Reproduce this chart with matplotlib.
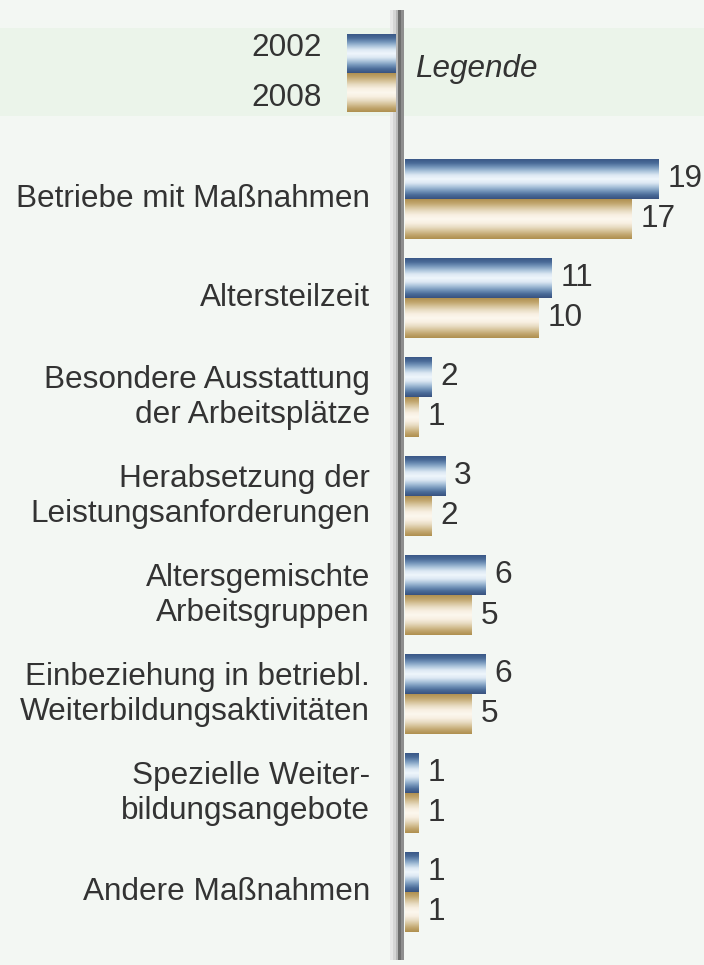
import numpy as np
import matplotlib
matplotlib.use("Agg")
import matplotlib.pyplot as plt
import matplotlib.transforms as mtransforms
from matplotlib.colors import LinearSegmentedColormap
from matplotlib.patches import Rectangle

categories = [
    "Betriebe mit Maßnahmen",
    "Altersteilzeit",
    "Besondere Ausstattung\nder Arbeitsplätze",
    "Herabsetzung der\nLeistungsanforderungen",
    "Altersgemischte\nArbeitsgruppen",
    "Einbeziehung in betriebl.\nWeiterbildungsaktivitäten",
    "Spezielle Weiter-\nbildungsangebote",
    "Andere Maßnahmen",
]
values_2002 = [19, 11, 2, 3, 6, 6, 1, 1]
values_2008 = [17, 10, 1, 2, 5, 5, 1, 1]
series_labels = ["2002", "2008"]
legend_title = "Legende"

W, H = 704, 965
DPI = 100
FONT = "Liberation Sans"
FS = 22.7
TXT = "#333333"
BG = "#F3F7F3"

blue_cmap = LinearSegmentedColormap.from_list(
    "blue", ["#3A5786", "#4A6B98", "#7495BA", "#A9C2DA", "#DCE8F3", "#EFF6FC",
             "#DCE8F3", "#A9C2DA", "#7495BA", "#4A6B98", "#38527F"])
beige_cmap = LinearSegmentedColormap.from_list(
    "beige", ["#B09050", "#C0A46C", "#D5C298", "#E9DDC4", "#F8F0E2", "#FCF7EE",
              "#F8F0E2", "#E9DDC4", "#D5C298", "#C0A46C", "#AE8F4E"])
grad = np.linspace(0, 1, 256).reshape(-1, 1)

fig = plt.figure(figsize=(W / DPI, H / DPI), dpi=DPI, facecolor=BG)

# background / decoration axes in pixel coordinates
bg = fig.add_axes([0, 0, 1, 1], zorder=0)
bg.set_xlim(0, W)
bg.set_ylim(H, 0)
bg.axis("off")
bg.add_patch(Rectangle((0, 28), W, 88, facecolor="#EBF4EA", edgecolor="none"))

# vertical axis line (gray gradient)
for x0, x1, c in [(390, 393, "#E8E8E8"), (393, 396, "#D6D6D6"), (396, 398, "#B8B8B8"),
                  (398, 401, "#6E6E6E"), (401, 404, "#8E8E8E")]:
    bg.add_patch(Rectangle((x0, 10), x1 - x0, 950, facecolor=c, edgecolor="none"))

# legend swatches
sw_x, sw_w = 347, 49
for (y0, cmap) in [(34, blue_cmap), (73, beige_cmap)]:
    bg.imshow(grad, cmap=cmap, aspect="auto",
              extent=(sw_x, sw_x + sw_w, y0 + 39, y0), zorder=2)
bg.text(322, 48, series_labels[0], ha="right", va="center", fontsize=FS,
        family=FONT, color=TXT)
bg.text(322, 98, series_labels[1], ha="right", va="center", fontsize=FS,
        family=FONT, color=TXT)
bg.text(415, 69, legend_title, ha="left", va="center", fontsize=FS,
        family=FONT, color=TXT, style="italic")
bg.set_xlim(0, W)
bg.set_ylim(H, 0)

# data axes
px_per_unit = 13.35
left_px = 405
ax = fig.add_axes([left_px / W, 0, (W - left_px) / W, 1], zorder=1)
ax.patch.set_visible(False)
grp = 99.0
c0 = 199.5
ax.axis("off")

n = len(categories)
y = np.arange(n)
h = 40 / grp
bars1 = ax.barh(y - h / 2, values_2002, height=h, color="none", edgecolor="none")
bars2 = ax.barh(y + h / 2, values_2008, height=h, color="none", edgecolor="none")

for bars, cmap in [(bars1, blue_cmap), (bars2, beige_cmap)]:
    for b in bars:
        x0, y0 = b.get_x(), b.get_y()
        w, hh = b.get_width(), b.get_height()
        im = ax.imshow(grad, cmap=cmap, aspect="auto",
                       extent=(x0, x0 + w, y0 + hh, y0), zorder=2)
        im.set_clip_path(b)

off = 9 / px_per_unit
for bars, vals in [(bars1, values_2002), (bars2, values_2008)]:
    for b, v in zip(bars, vals):
        ax.text(b.get_width() + off, b.get_y() + b.get_height() / 2, f"{v}",
                ha="left", va="center", fontsize=FS, family=FONT, color=TXT)

ax.set_xlim(0, (W - left_px) / px_per_unit)
ax.set_ylim(7 + (H - (c0 + 7 * grp)) / grp, -c0 / grp)

# category labels
trans = mtransforms.blended_transform_factory(fig.transFigure, ax.transData)
for yi, lab in zip(y, categories):
    fig.text(370 / W, yi, lab, transform=trans, ha="right", va="center",
             fontsize=FS, family=FONT, color=TXT, linespacing=1.25,
             multialignment="right")

fig.savefig("out.png", dpi=DPI, facecolor=BG)
